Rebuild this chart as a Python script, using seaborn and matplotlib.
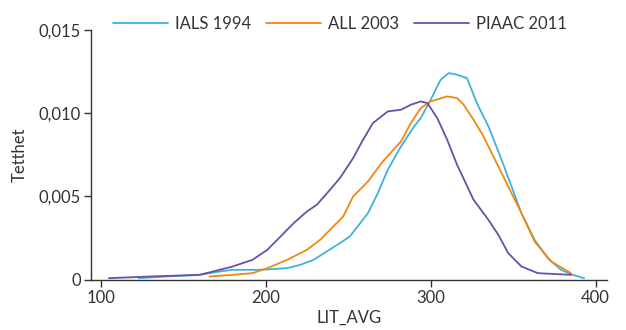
import matplotlib
matplotlib.use("Agg")
import matplotlib.pyplot as plt
import matplotlib.ticker as mticker
import numpy as np
import pandas as pd
import seaborn as sns

# density curves
ials_x = [123, 140, 160, 172, 180, 197, 213, 221, 229, 237, 245, 251, 262, 268, 274, 282,
          290, 294, 300, 306, 311, 316, 322, 328, 335, 343, 349, 355, 363, 371, 379, 386, 393]
ials_y = [0.0001, 0.0002, 0.0003, 0.0005, 0.0006, 0.0006, 0.0007, 0.0009, 0.0012, 0.0017,
          0.0022, 0.0026, 0.0040, 0.0052, 0.0066, 0.0080, 0.0092, 0.0097, 0.0108, 0.0120,
          0.0124, 0.0123, 0.0121, 0.0106, 0.0092, 0.0072, 0.0056, 0.0040, 0.0024, 0.0013,
          0.0006, 0.0003, 0.0001]

all_x = [166, 180, 192, 201, 213, 225, 233, 241, 247, 253, 262, 271, 282, 288, 294, 300,
         310, 316, 320, 326, 332, 338, 347, 355, 363, 373, 385]
all_y = [0.0002, 0.0003, 0.0004, 0.0007, 0.0012, 0.0018, 0.0024, 0.0032, 0.0038, 0.0050,
         0.0059, 0.0071, 0.0083, 0.0094, 0.0103, 0.0107, 0.0110, 0.0109, 0.0105, 0.0096,
         0.0086, 0.0074, 0.0056, 0.0040, 0.0023, 0.0011, 0.0004]

piaac_x = [105, 130, 160, 180, 192, 201, 209, 217, 225, 231, 239, 245, 253, 259, 265, 274,
           282, 288, 294, 298, 304, 310, 316, 326, 335, 341, 347, 355, 365, 385]
piaac_y = [0.0001, 0.0002, 0.0003, 0.0008, 0.0012, 0.0018, 0.0026, 0.0034, 0.0041, 0.0045,
           0.0054, 0.0061, 0.0073, 0.0084, 0.0094, 0.0101, 0.0102, 0.0105, 0.0107, 0.0106,
           0.0097, 0.0084, 0.0069, 0.0048, 0.0036, 0.0027, 0.0016, 0.0008, 0.0004, 0.0003]

series_names = ["IALS 1994", "ALL 2003", "PIAAC 2011"]
series_colors = ["#3db3dc", "#f0880f", "#6b4fa8"]

df = pd.concat([
    pd.DataFrame({"LIT_AVG": ials_x, "Tetthet": ials_y, "serie": series_names[0]}),
    pd.DataFrame({"LIT_AVG": all_x, "Tetthet": all_y, "serie": series_names[1]}),
    pd.DataFrame({"LIT_AVG": piaac_x, "Tetthet": piaac_y, "serie": series_names[2]}),
])

sns.set_style("ticks")
plt.rcParams["font.family"] = ["Lato", "DejaVu Sans"]

fig = plt.figure(figsize=(6.26, 3.3), dpi=100)
ax = fig.add_axes([0.145, 0.152, 0.825, 0.758])

sns.lineplot(data=df, x="LIT_AVG", y="Tetthet", hue="serie", hue_order=series_names,
             palette=dict(zip(series_names, series_colors)), linewidth=1.3,
             sort=False, estimator=None, ax=ax)

ax.set_xlim(94, 407)
ax.set_ylim(0, 0.015)
ax.set_xticks([100, 200, 300, 400])
ax.set_yticks([0, 0.005, 0.010, 0.015])
ax.yaxis.set_major_formatter(mticker.FuncFormatter(
    lambda v, p: "0" if abs(v) < 1e-9 else f"{v:.3f}".replace(".", ",")))

for s in ["top", "right"]:
    ax.spines[s].set_visible(False)
for s in ["left", "bottom"]:
    ax.spines[s].set_color("#333333")
    ax.spines[s].set_linewidth(1.0)
ax.tick_params(axis="both", colors="#333333", labelcolor="#333333", labelsize=12,
               length=5, width=1.0, direction="out", pad=2)

ax.set_xlabel("LIT_AVG", fontsize=12, color="#333333", labelpad=3)
ax.set_ylabel("Tetthet", fontsize=12, color="#333333", labelpad=8)

leg = ax.legend(loc="center", bbox_to_anchor=(0.543, 0.927), bbox_transform=fig.transFigure,
                ncol=3, frameon=False, fontsize=12, handlelength=3.3, handletextpad=0.4,
                columnspacing=0.9)
for t in leg.get_texts():
    t.set_color("#333333")

fig.savefig("out.png", dpi=100)
